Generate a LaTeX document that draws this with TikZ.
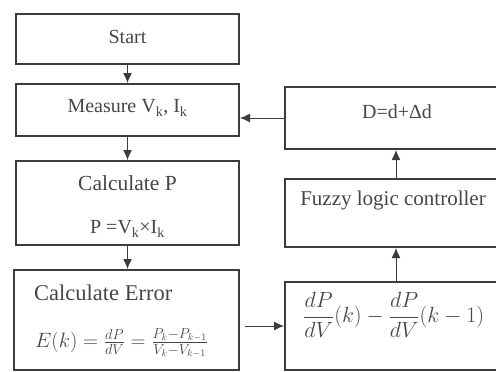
\documentclass[tikz,border=0pt]{standalone}
\usepackage{amsmath}
\usepackage{graphicx}
\usepackage{fontspec}
\setmainfont{Liberation Serif}
\usetikzlibrary{positioning,arrows.meta}
\definecolor{boxgray}{RGB}{60,60,60}
\definecolor{txtgray}{RGB}{70,70,70}
\tikzset{
  stepbox/.style={draw=boxgray,line width=2pt,minimum width=223pt,inner sep=0pt},
  lbl/.style={text=txtgray,inner sep=0pt,font=\fontsize{20}{24}\selectfont},
  biglbl/.style={lbl,font=\fontsize{21.5}{26}\selectfont},
  arr/.style={draw=boxgray,line width=1pt,-{Latex[length=10pt,width=9pt]}},
}

\begin{document}
\begin{tikzpicture}[x=1pt,y=-1pt]
  \useasboundingbox (0,0) rectangle (496,372);
  \clip (0,0) rectangle (496,372);
  % left column
  \node[stepbox,minimum height=50pt] (start) at (127.5,39) {};
  \node[stepbox,minimum height=52pt] (measure) at (127.5,110) {};
  \node[stepbox,minimum height=84pt] (calcp) at (127.5,203) {};
  \node[stepbox,minimum width=225pt,minimum height=100pt] (error) at (126.5,320) {};
  % right column
  \node[stepbox,minimum width=222pt,minimum height=62pt] (dupdate) at (396,118) {};
  \node[stepbox,minimum width=222pt,minimum height=68pt] (flc) at (396,213) {};
  \node[stepbox,minimum width=222pt,minimum height=88pt] (slope) at (396,326) {};
  % texts
  \node[lbl] (startlbl) at (127.5,37) {Start};
  \node[lbl] (measurelbl) at (127.5,108) {Measure V\textsubscript{k}, I\textsubscript{k}};
  \node[biglbl] (calcplbl) at (127.5,183) {Calculate P};
  \node[lbl] (powerlbl) at (127.5,229) {P =V\textsubscript{k}×I\textsubscript{k}};
  \node[lbl,anchor=west,font=\fontsize{22.5}{27}\selectfont] (errorlbl) at (34,293) {Calculate Error};
  \node[lbl,anchor=west] (errorfml) at (35,343) {$E(k)=\frac{dP}{dV}=\frac{P_k-P_{k-1}}{V_k-V_{k-1}}$};
  \node[lbl] (dlbl) at (397,112) {D=d+Δd};
  \node[lbl,font=\fontsize{21}{25}\selectfont] (flclbl) at (393,200) {Fuzzy logic controller};
  \node[lbl,anchor=west] (slopelbl) at (303,315) {\scalebox{1.06}{$\dfrac{dP}{dV}(k)-\dfrac{dP}{dV}(k-1)$}};
  % arrows
  \draw[arr] (start) -- (measure);
  \draw[arr] (measure) -- (calcp);
  \draw[arr] (calcp.south) -- (error.north -| calcp.south);
  \draw[arr,shorten <=5pt] (error.east |- slope.west) -- (slope.west);
  \draw[arr] (slope) -- (flc);
  \draw[arr] (flc) -- (dupdate);
  \draw[arr] (dupdate.west) -- (dupdate.west -| measure.east);
\end{tikzpicture}
\end{document}
